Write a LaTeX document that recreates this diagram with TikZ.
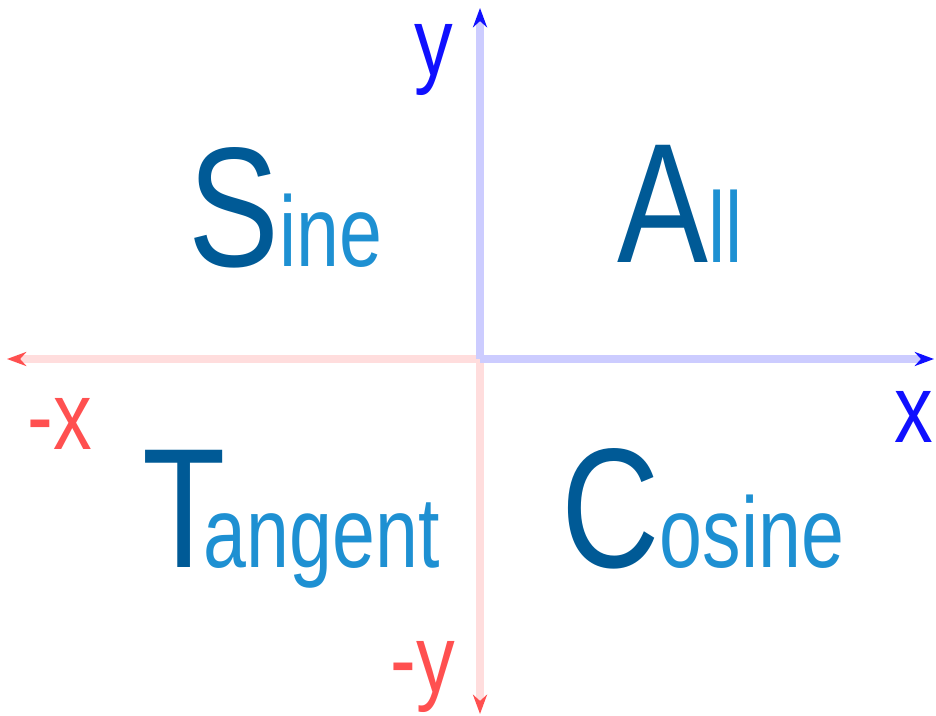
\documentclass[tikz,border=0pt]{standalone}
\usepackage{fontspec}
\setmainfont{Liberation Sans}
\newfontfamily\quadfont[FakeStretch=0.8]{Liberation Sans}
\newfontfamily\lowfont[FakeStretch=0.77]{Liberation Sans}
\usetikzlibrary{arrows.meta}

\definecolor{capblue}{HTML}{005A96}
\definecolor{lowblue}{HTML}{1E90D2}
\definecolor{posaxis}{HTML}{CCCCFF}
\definecolor{negaxis}{HTML}{FFDDDD}
\definecolor{postip}{HTML}{1010FF}
\definecolor{negtip}{HTML}{FF5050}

\newcommand{\capl}[1]{{\fontsize{97}{100}\selectfont\color{capblue}#1}}
\newcommand{\lowl}[1]{{\lowfont\fontsize{57}{60}\selectfont\color{lowblue}#1}}

\begin{document}
\begin{tikzpicture}[x=0.02cm, y=-0.02cm,
    posaxisline/.style={line width=5pt, posaxis, -{Stealth[length=11pt, width=8pt, color=postip]}},
    negaxisline/.style={line width=5pt, negaxis, -{Stealth[length=11pt, width=8pt, color=negtip]}},
    quadword/.style={anchor=base west, inner sep=0pt, font=\quadfont},
    axislabel/.style={anchor=base west, inner sep=0pt, font=\quadfont\fontsize{55}{60}\selectfont}]
  \useasboundingbox (0,0) rectangle (936,716);

  % === AXES ===
  \coordinate (O) at (480,359);
  \coordinate (xpos) at (934,359);
  \coordinate (xneg) at (7,359);
  \coordinate (ypos) at (480,8);
  \coordinate (yneg) at (480,714);

  \draw[negaxisline] (O) -- (xneg);
  \draw[negaxisline] (O) -- (yneg);
  \draw[posaxisline] (O) -- (xpos);
  \draw[posaxisline] (O) -- (ypos);

  \node[axislabel, postip] (ylab) at (414,76) {y};
  \node[axislabel, postip] (xlab) at (894,442) {x};
  \node[axislabel, negtip] (mxlab) at (27,449) {-x};
  \node[axislabel, negtip] (mylab) at (390,692) {-y};

  % === QUADRANTS ===
  \node[quadword] (sine) at (188,266) {\capl{S}\lowl{ine}};
  \node[quadword] (all) at (617,262) {\capl{A}\lowl{ll}};
  \node[quadword] (tangent) at (142,567) {\capl{T}\kern-0.44cm\lowl{angent}};
  \node[quadword] (cosine) at (561,567) {\capl{C}\lowl{osine}};
\end{tikzpicture}
\end{document}
